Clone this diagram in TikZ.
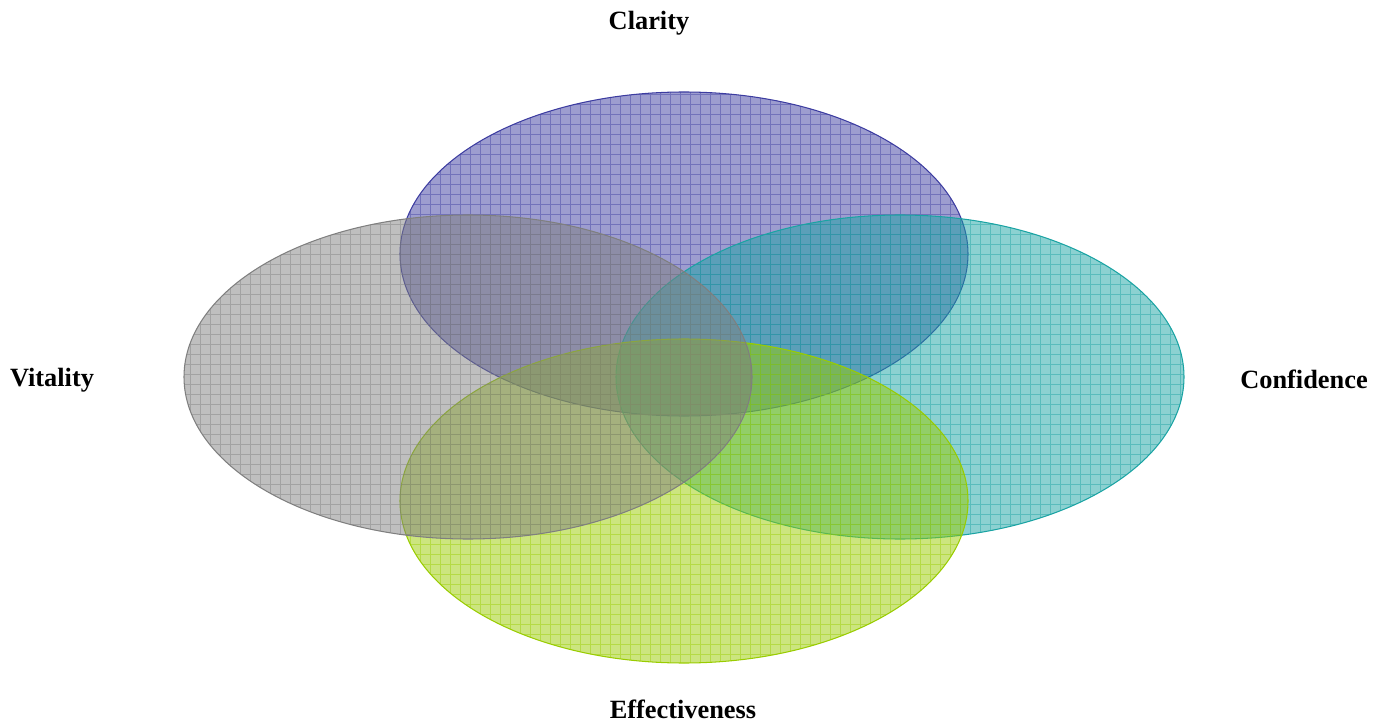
\documentclass[tikz,border=0pt]{standalone}
\usepackage{fontspec}
\setmainfont{Liberation Serif}
\usepackage{tikz}
\definecolor{clarityblue}{HTML}{3C3CA0}
\definecolor{vitalitygray}{HTML}{7F7F7F}
\definecolor{confidenceteal}{HTML}{1AA3A3}
\definecolor{effectgreen}{HTML}{99CC00}
\tikzstyle{petal}=[line width=0.5pt, fill opacity=0.5]
\tikzstyle{mesh}=[line width=0.5pt, opacity=0.45]
\tikzstyle{caption}=[font=\fontsize{15}{18}\selectfont\bfseries, inner sep=0pt]

\begin{document}
\begin{tikzpicture}
			\useasboundingbox (0,0) rectangle (27.7,14.48);
			\coordinate (clarity) at (13.68,9.40);
			\coordinate (vitality) at ( 9.36,6.94);
			\coordinate (confidence) at (18.00,6.94);
			\coordinate (effect) at (13.68,4.46);
			\foreach \c/\col in {clarity/clarityblue,confidence/confidenceteal,effect/effectgreen,vitality/vitalitygray}{
				\fill[petal, fill=\col] (\c) ellipse [x radius=5.68, y radius=3.24];
				\begin{scope}
					\clip (\c) ellipse [x radius=5.68, y radius=3.24];
					\draw[mesh, draw=\col, step=0.2] (0,0) grid (27.7,14.48);
				\end{scope}
				\draw[line width=0.6pt, draw=\col] (\c) ellipse [x radius=5.68, y radius=3.24];
			}
			\node[caption] (lclarity) at (12.98,14.02) {Clarity};
			\node[caption] (lvitality) at ( 1.04,6.88) {Vitality};
			\node[caption] (lconfidence) at (26.08,6.90) {Confidence};
			\node[caption] (leffect) at (13.66,0.30) {Effectiveness};
		\end{tikzpicture}
\end{document}
